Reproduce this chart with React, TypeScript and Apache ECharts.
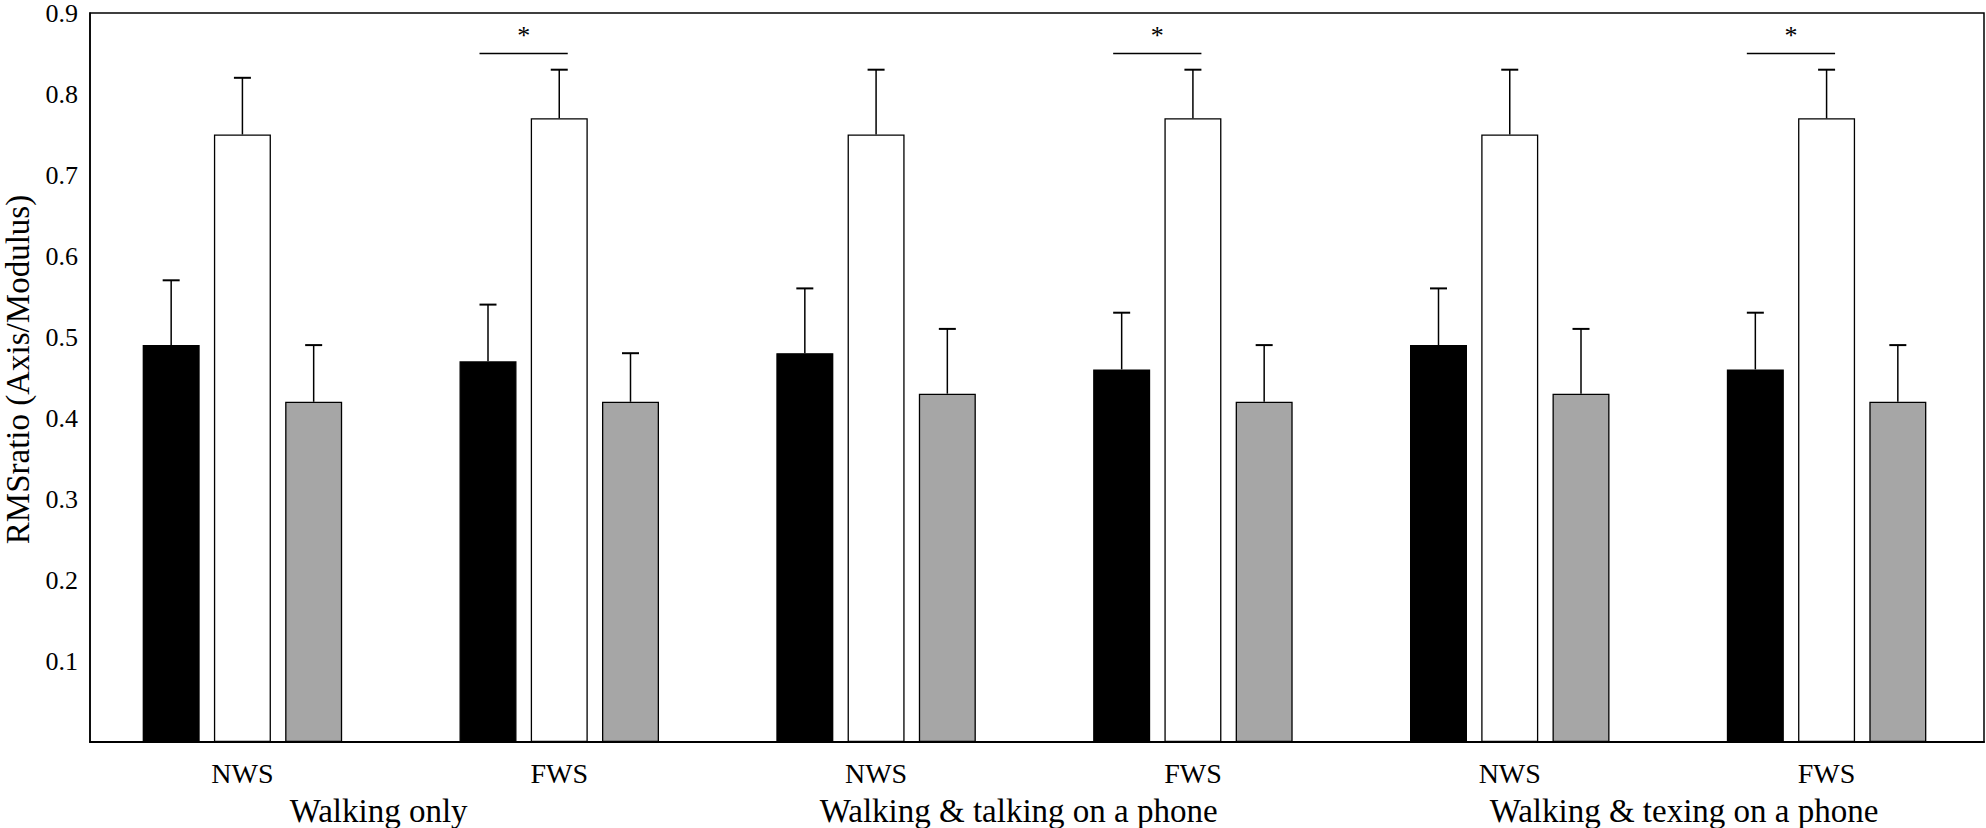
import React, { useEffect, useRef } from "react";
import * as echarts from "echarts";

const categories = ["NWS", "FWS", "NWS", "FWS", "NWS", "FWS"];
const groups = [
  "Walking only",
  "Walking & talking on a phone",
  "Walking & texing on a phone",
];
// group label centres, in category-index units
const groupPositions = [0.43, 2.45, 4.55];
const blackMean = [0.49, 0.47, 0.48, 0.46, 0.49, 0.46];
const blackUpper = [0.57, 0.54, 0.56, 0.53, 0.56, 0.53];
const whiteMean = [0.75, 0.77, 0.75, 0.77, 0.75, 0.77];
const whiteUpper = [0.82, 0.83, 0.83, 0.83, 0.83, 0.83];
const grayMean = [0.42, 0.42, 0.43, 0.42, 0.43, 0.42];
const grayUpper = [0.49, 0.48, 0.51, 0.49, 0.51, 0.49];
const sigCategories = [1, 3, 5];
const sigLevel = 0.85;
const yAxisName = "RMSratio (Axis/Modulus)";
const Y_MIN = 0;
const Y_MAX = 0.9;
const Y_STEP = 0.1;

const FONT = "Liberation Serif";
const BAR_W = 57;
const BAR_GAP = 0.25;
const STEP = BAR_W * (1 + BAR_GAP);
const CAP_HALF = 8.5;

function errorSeries(mean: number[], upper: number[], offset: number) {
  return {
    type: "custom",
    xAxisIndex: 1,
    yAxisIndex: 1,
    z: 5,
    silent: true,
    encode: { x: 0, y: [1, 2] },
    data: mean.map((m, i) => [i, m, upper[i]]),
    renderItem: (params: any, api: any) => {
      const idx = api.value(0);
      const base = api.coord([idx, api.value(1)]);
      const top = api.coord([idx, api.value(2)]);
      const x = base[0] + offset;
      return {
        type: "group",
        children: [
          {
            type: "line",
            shape: { x1: x, y1: base[1], x2: x, y2: top[1] },
            style: { stroke: "#000", lineWidth: 1.5 },
          },
          {
            type: "line",
            shape: { x1: x - CAP_HALF, y1: top[1], x2: x + CAP_HALF, y2: top[1] },
            style: { stroke: "#000", lineWidth: 2 },
          },
        ],
      };
    },
  };
}

export default function App() {
  const ref = useRef<HTMLDivElement>(null);
  useEffect(() => {
    if (!ref.current) return;
    const chart = echarts.init(ref.current, null, { renderer: "svg" });
    const barStyle = (color: string) => ({
      color,
      borderColor: "#000",
      borderWidth: 1.3,
    });
    const barSeries = (data: number[], color: string) => ({
      type: "bar",
      xAxisIndex: 1,
      yAxisIndex: 1,
      data,
      barWidth: BAR_W,
      barGap: "25%",
      itemStyle: barStyle(color),
    });
    chart.setOption({
      animation: false,
      backgroundColor: "#fff",
      grid: [
        {
          left: 90,
          right: 2,
          top: 13,
          bottom: 86,
          show: true,
          borderColor: "#000",
          borderWidth: 1.5,
          backgroundColor: "transparent",
          containLabel: false,
          outerBoundsMode: "none",
        },
        {
          left: 84,
          right: 1,
          top: 13,
          bottom: 86,
          show: false,
          containLabel: false,
          outerBoundsMode: "none",
        },
      ],
      xAxis: [
        {
          gridIndex: 0,
          type: "value",
          min: 0,
          max: 1,
          axisLine: { show: true, onZero: false, lineStyle: { color: "#000", width: 2 } },
          axisTick: { show: false },
          axisLabel: { show: false },
          splitLine: { show: false },
        },
        {
          gridIndex: 1,
          type: "category",
          data: categories,
          axisLine: { show: false },
          axisTick: { show: false },
          axisLabel: {
            color: "#000",
            fontFamily: FONT,
            fontSize: 28,
            margin: 17,
          },
          splitLine: { show: false },
        },
      ],
      yAxis: [
        {
          gridIndex: 0,
          type: "value",
          min: Y_MIN,
          max: Y_MAX,
          interval: Y_STEP,
          name: yAxisName,
          nameLocation: "middle",
          nameGap: 55,
          nameTextStyle: {
            color: "#000",
            fontFamily: FONT,
            fontSize: 33,
            padding: [0, 0, 0, 16],
          },
          axisLine: { show: true, lineStyle: { color: "#000", width: 1.5 } },
          axisTick: { show: false },
          splitLine: { show: false },
          axisLabel: {
            color: "#000",
            fontFamily: FONT,
            fontSize: 26,
            margin: 12,
            formatter: (v: number) => (v === 0 ? "" : v.toFixed(1)),
          },
        },
        {
          gridIndex: 1,
          type: "value",
          min: Y_MIN,
          max: Y_MAX,
          interval: Y_STEP,
          show: false,
        },
      ],
      series: [
        barSeries(blackMean, "#000"),
        barSeries(whiteMean, "#fff"),
        barSeries(grayMean, "#a6a6a6"),
        errorSeries(blackMean, blackUpper, -STEP),
        errorSeries(whiteMean, whiteUpper, 0),
        errorSeries(grayMean, grayUpper, STEP),
        {
          type: "custom",
          xAxisIndex: 1,
          yAxisIndex: 1,
          z: 6,
          silent: true,
          encode: { x: 0, y: 1 },
          data: sigCategories.map((c) => [c, sigLevel]),
          renderItem: (params: any, api: any) => {
            const p = api.coord([api.value(0), api.value(1)]);
            const x1 = p[0] - STEP - CAP_HALF;
            const x2 = p[0] + CAP_HALF;
            return {
              type: "group",
              children: [
                {
                  type: "line",
                  shape: { x1, y1: p[1], x2, y2: p[1] },
                  style: { stroke: "#000", lineWidth: 1.5 },
                },
                {
                  type: "text",
                  x: (x1 + x2) / 2,
                  y: p[1] - 18,
                  style: {
                    text: "*",
                    fill: "#000",
                    font: `26px "${FONT}"`,
                    align: "center",
                    verticalAlign: "middle",
                  },
                },
              ],
            };
          },
        },
        {
          type: "custom",
          xAxisIndex: 1,
          yAxisIndex: 1,
          z: 6,
          silent: true,
          clip: false,
          encode: { x: 0, y: 1 },
          data: groupPositions.map((g, i) => [Math.floor(g), 0, g, i]),
          renderItem: (params: any, api: any) => {
            const pos = api.value(2);
            const idx = api.value(3);
            const p0 = api.coord([0, 0]);
            const p1 = api.coord([1, 0]);
            const x = p0[0] + (p1[0] - p0[0]) * pos;
            return {
              type: "text",
              x,
              y: p0[1] + 69,
              style: {
                text: groups[idx],
                fill: "#000",
                font: `33px "${FONT}"`,
                align: "center",
                verticalAlign: "middle",
              },
            };
          },
        },
      ],
    });
    return () => chart.dispose();
  }, []);
  return (
    <div
      ref={ref}
      style={{ position: "fixed", left: 0, top: 0, width: 1986, height: 828 }}
    />
  );
}
